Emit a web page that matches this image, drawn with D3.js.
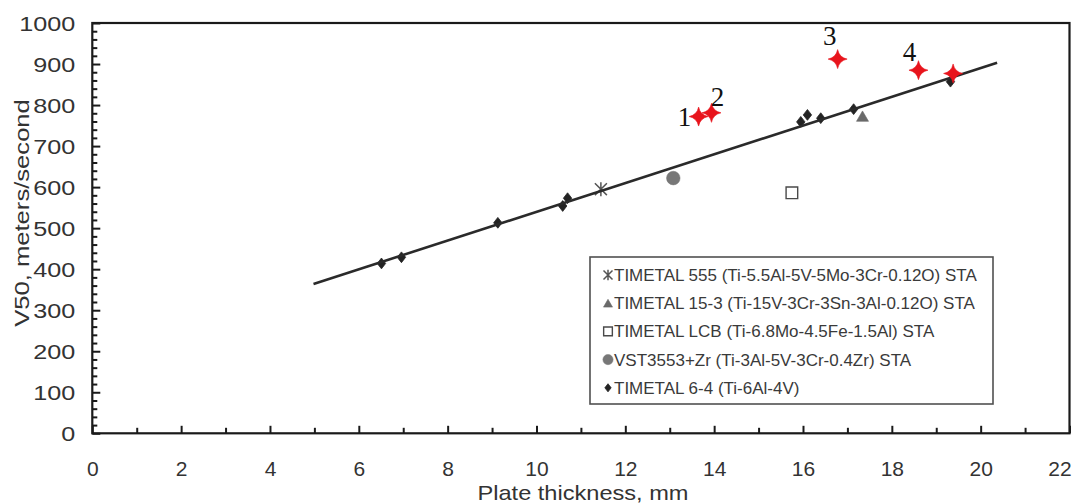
<!DOCTYPE html>
<html><head><meta charset="utf-8">
<script src="https://cdn.jsdelivr.net/npm/d3@7"></script>
<style>
html,body{margin:0;padding:0;background:#fff;}
svg{display:block;font-family:"Liberation Sans",Arial,Helvetica,sans-serif;}
</style></head><body>
<svg id="chart" width="1076" height="504"></svg>
<script>
// V50 ballistic limit versus plate thickness for titanium alloys
const xMajorTicks = [0, 2, 4, 6, 8, 10, 12, 14, 16, 18, 20, 22];
const xMinorTicks = [1, 3, 5, 7, 9, 11, 13, 15, 17, 19, 21];
const yMajorTicks = [0, 100, 200, 300, 400, 500, 600, 700, 800, 900, 1000];

const ti64Thickness = [6.51, 6.96, 9.13, 10.59, 10.70, 15.95, 16.10, 16.40, 17.14, 19.32];
const ti64V50 = [414, 429, 513, 554, 573, 759, 776, 768, 790, 857];
const ti555Thickness = [11.45];
const ti555V50 = [595];
const ti153Thickness = [17.34];
const ti153V50 = [773];
const lcbThickness = [15.75];
const lcbV50 = [586];
const vstThickness = [13.08];
const vstV50 = [622];
const testThickness = [13.65, 13.94, 16.78, 18.60, 19.38];
const testV50 = [772, 781, 912, 885, 877];
const testLabels = ["1", "2", "3", "4", ""];
const fitThickness = [4.98, 20.37];
const fitV50 = [364, 903];

const legendLabels = [
  "TIMETAL 555 (Ti-5.5Al-5V-5Mo-3Cr-0.12O) STA",
  "TIMETAL 15-3 (Ti-15V-3Cr-3Sn-3Al-0.12O) STA",
  "TIMETAL LCB (Ti-6.8Mo-4.5Fe-1.5Al) STA",
  "VST3553+Zr (Ti-3Al-5V-3Cr-0.4Zr) STA",
  "TIMETAL 6-4 (Ti-6Al-4V)"
];
const legendKinds = ["asterisk", "triangle", "square", "circle", "diamond"];

const svg = d3.select("#chart");
const plot = {left: 92.3, right: 1069.5, top: 23, bottom: 433.3};

const x = d3.scaleLinear().domain([0, 22]).range([plot.left, plot.right]);
const y = d3.scaleLinear().domain([0, 1000]).range([plot.bottom, plot.top]);

const axisColor = "#1a1a1a";
const textColor = "#333";

// y axis: major ticks with labels, minor ticks every 20
const yMinor = d3.range(0, 1001, 20).filter(v => v % 100 !== 0);
const yAxisMinor = svg.append("g").attr("transform", `translate(${plot.left},0)`)
  .call(d3.axisLeft(y).tickValues(yMinor).tickSize(-5).tickFormat(""));
const yAxis = svg.append("g").attr("transform", `translate(${plot.left},0)`)
  .call(d3.axisLeft(y).tickValues(yMajorTicks).tickSize(-8).tickPadding(17).tickFormat(d3.format("d")));
[yAxisMinor, yAxis].forEach(g => {
  g.select(".domain").remove();
  g.selectAll(".tick line").attr("stroke", axisColor).attr("stroke-width", 2);
});
yAxis.selectAll(".tick text")
  .attr("fill", textColor)
  .attr("font-size", 21)
  .attr("x", 0)
  .attr("dy", "0.34em")
  .attr("transform", "translate(-17,0) scale(1.2,1)");

// x axis: ticks at every millimetre, labels on even values
const xAxisMinor = svg.append("g").attr("transform", `translate(0,${plot.bottom})`)
  .call(d3.axisBottom(x).tickValues(xMinorTicks).tickSize(-5.5).tickFormat(""));
const xAxis = svg.append("g").attr("transform", `translate(0,${plot.bottom})`)
  .call(d3.axisBottom(x).tickValues(xMajorTicks).tickSize(-7.5).tickPadding(28));
[xAxisMinor, xAxis].forEach(g => {
  g.select(".domain").remove();
  g.selectAll(".tick line").attr("stroke", axisColor).attr("stroke-width", 2);
});
xAxis.selectAll(".tick text")
  .attr("fill", textColor)
  .attr("font-size", 21)
  .attr("dx", d => d === 22 ? -10 : 0);

// frame
svg.append("rect")
  .attr("x", plot.left).attr("y", plot.top)
  .attr("width", plot.right - plot.left).attr("height", plot.bottom - plot.top)
  .attr("fill", "none").attr("stroke", axisColor).attr("stroke-width", 2.2);

// axis titles
svg.append("text")
  .attr("transform", "translate(583,500) scale(1.18,1)")
  .attr("text-anchor", "middle")
  .attr("font-size", 20)
  .attr("fill", textColor)
  .text("Plate  thickness, mm");

svg.append("text")
  .attr("transform", "translate(28.5,213) rotate(-90) scale(1.22,1)")
  .attr("text-anchor", "middle")
  .attr("font-size", 21)
  .attr("fill", textColor)
  .text("V50, meters/second");

// marker shapes
function markerPath(kind, s) {
  const p = d3.path();
  if (kind === "diamond") {
    const w = 4.2 * s, h = 5.4 * s;
    p.moveTo(0, -h); p.lineTo(w, 0); p.lineTo(0, h); p.lineTo(-w, 0); p.closePath();
  } else if (kind === "triangle") {
    const w = 6 * s, h = 5.2 * s;
    p.moveTo(0, -h); p.lineTo(w, h); p.lineTo(-w, h); p.closePath();
  } else if (kind === "square") {
    const a = 5.8 * s;
    p.rect(-a, -a, 2 * a, 2 * a);
  } else if (kind === "circle") {
    p.arc(0, 0, 6.8 * s, 0, 2 * Math.PI);
  } else if (kind === "asterisk") {
    const w = 6 * s, h = 7 * s;
    p.moveTo(-w, -h * 0.85); p.lineTo(w, h * 0.85);
    p.moveTo(-w, h * 0.85); p.lineTo(w, -h * 0.85);
    p.moveTo(0, -h); p.lineTo(0, h);
  } else if (kind === "sparkle") {
    const r = 9.5 * s, c = 1.6 * s;
    p.moveTo(0, -r);
    p.quadraticCurveTo(c, -c, r, 0);
    p.quadraticCurveTo(c, c, 0, r);
    p.quadraticCurveTo(-c, c, -r, 0);
    p.quadraticCurveTo(-c, -c, 0, -r);
    p.closePath();
  }
  return p.toString();
}
const markerStyle = {
  diamond: {fill: "#232323", stroke: "#232323", sw: 0.8},
  triangle: {fill: "#6a6a6a", stroke: "#6a6a6a", sw: 0.6},
  square: {fill: "#fff", stroke: "#4a4a4a", sw: 1.4},
  circle: {fill: "#777", stroke: "#777", sw: 0.5},
  asterisk: {fill: "none", stroke: "#555", sw: 1.5},
  sparkle: {fill: "#e8141c", stroke: "#e8141c", sw: 0.6}
};
function drawMarkers(g, xs, ys, kind, s) {
  const st = markerStyle[kind];
  g.selectAll(null).data(xs.map((v, i) => [v, ys[i]])).enter()
    .append("path")
    .attr("transform", d => `translate(${x(d[0])},${y(d[1])})`)
    .attr("d", markerPath(kind, s))
    .attr("fill", st.fill).attr("stroke", st.stroke).attr("stroke-width", st.sw);
}

const marks = svg.append("g");
drawMarkers(marks, lcbThickness, lcbV50, "square", 1);
drawMarkers(marks, vstThickness, vstV50, "circle", 1);
drawMarkers(marks, ti64Thickness, ti64V50, "diamond", 1);
drawMarkers(marks, ti153Thickness, ti153V50, "triangle", 1);
drawMarkers(marks, ti555Thickness, ti555V50, "asterisk", 1);

// linear trend
svg.append("path")
  .datum(fitThickness.map((v, i) => [v, fitV50[i]]))
  .attr("d", d3.line().x(d => x(d[0])).y(d => y(d[1])))
  .attr("fill", "none").attr("stroke", "#2a2a2a").attr("stroke-width", 2.6);

const tests = svg.append("g");
drawMarkers(tests, testThickness, testV50, "sparkle", 1);

// numbered test shots
const labelOffsets = [[-14, 9], [6, -7], [-8, -14], [-9, -9], [0, 0]];
svg.append("g").selectAll("text")
  .data(testLabels.map((t, i) => ({t, px: testThickness[i], v: testV50[i], o: labelOffsets[i]})))
  .enter().append("text")
  .attr("x", d => x(d.px) + d.o[0])
  .attr("y", d => y(d.v) + d.o[1])
  .attr("text-anchor", "middle")
  .attr("font-family", "'Liberation Serif','Times New Roman',serif")
  .attr("font-size", 27)
  .attr("fill", "#111")
  .text(d => d.t);

// legend
const legend = svg.append("g").attr("transform", "translate(590,257)");
legend.append("rect")
  .attr("width", 403).attr("height", 147)
  .attr("fill", "#fff").attr("stroke", "#505050").attr("stroke-width", 1.6);
const rows = legend.selectAll("g.row")
  .data(legendLabels.map((t, i) => ({t, k: legendKinds[i], i})))
  .enter().append("g").attr("class", "row")
  .attr("transform", d => `translate(0,${18 + d.i * 28.2})`);
rows.append("path")
  .attr("transform", "translate(18,0)")
  .attr("d", d => markerPath(d.k, 0.75))
  .attr("fill", d => markerStyle[d.k].fill)
  .attr("stroke", d => markerStyle[d.k].stroke)
  .attr("stroke-width", d => markerStyle[d.k].sw);
rows.append("text")
  .attr("x", 24).attr("y", 6)
  .attr("font-size", 17)
  .attr("fill", "#3a3a3a")
  .text(d => d.t);
</script>
</body></html>
